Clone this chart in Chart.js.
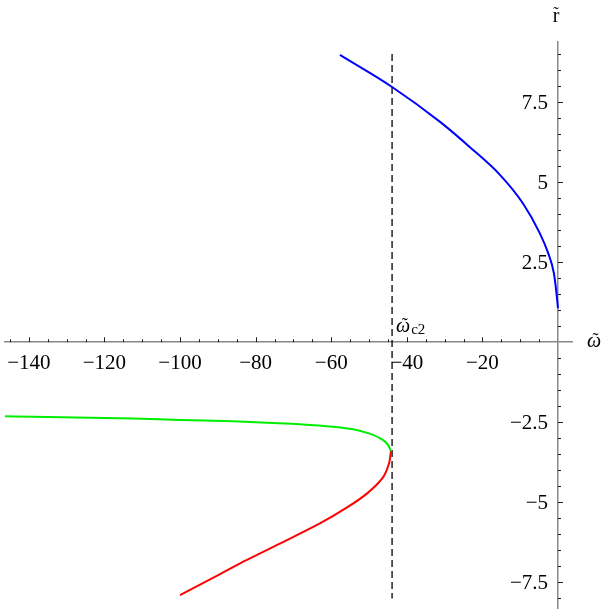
<!DOCTYPE html>
<html>
<head>
<meta charset="utf-8">
<script src="https://cdn.jsdelivr.net/npm/chart.js@4/dist/chart.umd.min.js"></script>
<style>
  body { margin: 0; background: #fff; }
</style>
</head>
<body>
<canvas id="plot" width="610" height="610"></canvas>
<script>
// upper branch (blue)
const blueW = [-57.7, -43.9, -31.2, -23.3, -15.3, -9.3, -4.8, -2.6, -1.1, -0.5, 0];
const blueR = [8.97, 7.97, 6.88, 6.09, 5.22, 4.34, 3.4, 2.78, 2.16, 1.63, 1.06];

// lower branch, green part
const greenW = [-146.3, -138.9, -112.4, -100, -86, -75.4, -68.3, -59.5, -54.2, -50.5, -47.1, -45, -44.2];
const greenR = [-2.31, -2.33, -2.38, -2.43, -2.47, -2.52, -2.56, -2.64, -2.72, -2.83, -3.0, -3.2, -3.4];

// lower branch, red part
const redW = [-44.2, -44.7, -46.3, -50.5, -55.8, -63, -74.3, -82.3, -89.4, -100];
const redR = [-3.4, -3.78, -4.22, -4.72, -5.16, -5.66, -6.33, -6.8, -7.24, -7.9];

// critical frequency (dashed line)
const critW = -43.9;
const critR = [9, -8];

// tick labels
const xTicks = [-140, -120, -100, -80, -60, -40, -20];
const yTicks = [-7.5, -5, -2.5, 2.5, 5, 7.5];

const toPts = (xs, ys) => xs.map((v, i) => ({ x: v, y: ys[i] }));

function fmt(v) {
  const s = String(Math.abs(v));
  return v < 0 ? '\u2212' + s : s;
}

// omega with a tilde drawn above it
function omegaTilde(ctx, left, base) {
  ctx.font = 'italic 20px "Liberation Serif"';
  ctx.textAlign = 'left';
  ctx.fillText('\u03c9', left, base);
  const w = ctx.measureText('\u03c9').width;
  ctx.font = '18px "Liberation Serif"';
  ctx.textAlign = 'center';
  ctx.fillText('\u02dc', left + w / 2 + 1.5, base - 1);
  return w;
}

// Mathematica-like ticks (pointing into the plot) and labels
const axesDecor = {
  id: 'axesDecor',
  afterDraw(chart) {
    const { ctx, scales: { x, y } } = chart;
    const x0 = x.getPixelForValue(0);
    const y0 = y.getPixelForValue(0);
    ctx.save();
    ctx.strokeStyle = '#222';
    ctx.lineWidth = 1;

    // x ticks every 5
    for (let v = -145; v < 0; v += 5) {
      const px = Math.round(x.getPixelForValue(v)) + 0.5;
      const len = v % 20 === 0 ? 5 : 3;
      ctx.beginPath();
      ctx.moveTo(px, y0);
      ctx.lineTo(px, y0 - len);
      ctx.stroke();
    }
    // y ticks every 0.5
    for (let k = -16; k <= 18; k++) {
      if (k === 0) continue;
      const v = k / 2;
      const py = Math.round(y.getPixelForValue(v)) + 0.5;
      const len = k % 5 === 0 ? 5 : 3;
      ctx.beginPath();
      ctx.moveTo(x0, py);
      ctx.lineTo(x0 + len, py);
      ctx.stroke();
    }

    ctx.fillStyle = '#000';
    ctx.font = '21px "Liberation Serif"';
    ctx.textBaseline = 'alphabetic';
    ctx.textAlign = 'center';
    xTicks.forEach(v => ctx.fillText(fmt(v), x.getPixelForValue(v), y0 + 27));
    ctx.textAlign = 'right';
    yTicks.forEach(v => ctx.fillText(fmt(v), x0 - 10, y.getPixelForValue(v) + 7));

    // axis titles
    omegaTilde(ctx, 587, y0 + 5);
    ctx.font = '20px "Liberation Serif"';
    ctx.textAlign = 'center';
    ctx.fillText('r', 556, 22);
    ctx.font = '17px "Liberation Serif"';
    ctx.fillText('\u02dc', 556, 18);

    // label of the dashed line
    const cx = x.getPixelForValue(critW);
    const w = omegaTilde(ctx, cx + 4, y0 - 10);
    ctx.font = '15px "Liberation Serif"';
    ctx.textAlign = 'left';
    ctx.fillText('c2', cx + 5 + w, y0 - 8);
    ctx.restore();
  }
};

const lineStyle = { borderWidth: 2, showLine: true, pointRadius: 0, cubicInterpolationMode: 'monotone' };

const chart = new Chart(document.getElementById('plot'), {
  type: 'scatter',
  data: {
    datasets: [
      Object.assign({ data: toPts(blueW, blueR), borderColor: '#0000ff' }, lineStyle),
      Object.assign({ data: toPts(greenW, greenR), borderColor: '#00ee00' }, lineStyle),
      Object.assign({ data: toPts(redW, redR), borderColor: '#ff0000', tension: 0.35, cubicInterpolationMode: 'default' },
        { borderWidth: 2, showLine: true, pointRadius: 0 }),
      {
        data: critR.map(r => ({ x: critW, y: r })),
        borderColor: '#000',
        borderWidth: 1.3,
        borderDash: [7, 4],
        showLine: true,
        pointRadius: 0
      }
    ]
  },
  options: {
    responsive: false,
    animation: false,
    layout: { padding: { left: 5, right: 38, top: 42, bottom: 2 } },
    plugins: { legend: { display: false }, tooltip: { enabled: false } },
    scales: {
      x: {
        type: 'linear',
        min: -146.3,
        max: 3.7,
        position: { y: 0 },
        grid: { display: false, drawTicks: false },
        ticks: { display: false },
        border: { display: true, color: '#888', width: 1.5 }
      },
      y: {
        type: 'linear',
        min: -8.3,
        max: 9.375,
        position: { x: 0 },
        grid: { display: false, drawTicks: false },
        ticks: { display: false },
        border: { display: true, color: '#888', width: 1.5 }
      }
    }
  },
  plugins: [axesDecor]
});
</script>
</body>
</html>
